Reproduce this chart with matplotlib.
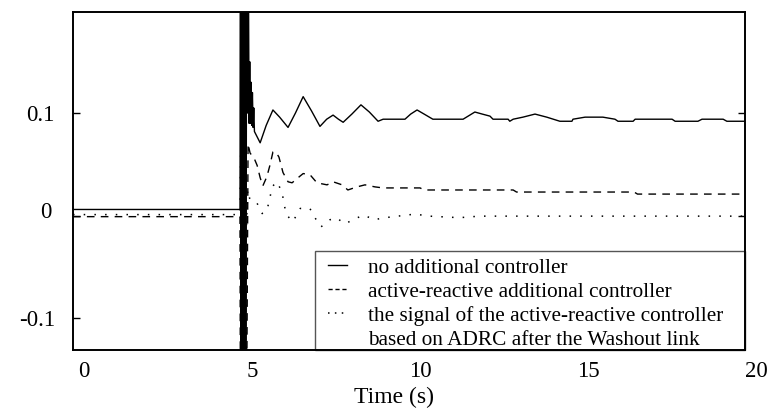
import matplotlib
matplotlib.use("Agg")
import matplotlib.pyplot as plt
from matplotlib.lines import Line2D
from matplotlib.patches import Rectangle
from matplotlib.transforms import ScaledTranslation

plt.rcParams['font.family'] = ['Liberation Serif', 'DejaVu Serif']
plt.rcParams['axes.unicode_minus'] = False

# ---- data ----
t_solid = [0, 4.97, 4.985, 5.00, 5.02, 5.04, 5.07, 5.09, 5.12, 5.14, 5.17, 5.20, 5.22, 5.24, 5.26,
           5.28, 5.30, 5.32, 5.34, 5.36, 5.38, 5.40, 5.57, 5.75, 5.95, 6.15, 6.40, 6.62, 6.85, 7.10,
           7.35, 7.55, 7.74, 7.90, 8.04, 8.30, 8.57, 8.82, 9.08, 9.23, 9.88, 10.05, 10.24, 10.45,
           10.71, 11.61, 11.96, 12.18, 12.41, 12.5, 12.95, 13.0, 13.1, 13.39, 13.75, 14.1, 14.49,
           14.85, 14.88, 15.24, 15.77, 16.13, 16.22, 16.67, 16.73, 17.83, 17.92, 18.60, 18.72,
           19.35, 19.46, 20.0]
v_solid = [0.006, 0.006, 0.3, -0.3, 0.3, -0.3, 0.3, -0.3, 0.3, -0.3, 0.3, 0.10, 0.25, 0.09, 0.15,
           0.09, 0.13, 0.088, 0.12, 0.086, 0.105, 0.082, 0.071, 0.088, 0.103, 0.096, 0.086, 0.100,
           0.116, 0.102, 0.087, 0.094, 0.098, 0.094, 0.091, 0.099, 0.108, 0.101, 0.092, 0.094,
           0.094, 0.099, 0.103, 0.099, 0.094, 0.094, 0.101, 0.099, 0.097, 0.094, 0.094, 0.092,
           0.094, 0.096, 0.099, 0.096, 0.092, 0.092, 0.094, 0.096, 0.096, 0.094, 0.092, 0.092,
           0.094, 0.094, 0.092, 0.092, 0.094, 0.094, 0.092, 0.092]

t_dash = [0, 4.97, 4.99, 5.01, 5.03, 5.06, 5.09, 5.12, 5.15, 5.21, 5.27, 5.39, 5.48, 5.57, 5.65,
          5.77, 5.86, 5.95, 6.04, 6.13, 6.25, 6.40, 6.52, 6.70, 6.85, 7.05, 7.26, 7.56, 7.74, 8.01,
          8.18, 8.45, 8.69, 8.99, 9.23, 10.33, 10.45, 13.1, 13.2, 16.7, 16.8, 20.0]
v_dash = [-0.001, -0.001, -0.3, 0.3, -0.3, 0.3, -0.3, 0.3, -0.3, 0.07, 0.061, 0.056, 0.049, 0.037,
          0.029, 0.038, 0.049, 0.062, 0.062, 0.057, 0.042, 0.033, 0.032, 0.037, 0.041, 0.040,
          0.032, 0.030, 0.033, 0.030, 0.025, 0.028, 0.030, 0.028, 0.027, 0.027, 0.025, 0.025,
          0.023, 0.023, 0.021, 0.021]

t_dot = [0, 4.97, 4.99, 5.03, 5.08, 5.13, 5.20, 5.27, 5.48, 5.63, 5.77, 5.86, 5.92, 6.07, 6.22,
         6.28, 6.34, 6.52, 6.61, 6.76, 7.05, 7.20, 7.38, 7.65, 7.83, 8.10, 8.39, 8.66, 8.96, 9.29,
         10.18, 10.6, 11.5, 12.1, 20.0]
v_dot = [0.001, 0.001, 0.06, -0.05, 0.05, -0.04, 0.025, 0.015, 0.012, 0.002, 0.005, 0.017, 0.028,
         0.033, 0.023, 0.012, 0.002, -0.006, -0.002, 0.007, 0.007, -0.002, -0.011, -0.004, -0.002,
         -0.008, -0.003, 0.0005, -0.004, -0.002, 0.0015, -0.0005, -0.002, -0.0005, -0.0005]

labels = ["no additional controller",
          "active-reactive additional controller",
          "the signal of the active-reactive controller",
          "based on ADRC after the Washout link"]
x_ticks = [0, 5, 10, 15, 20]
y_ticks = [-0.1, 0, 0.1]
y_tick_labels = ["-0.1", "0", "0.1"]

# ---- figure ----
fig = plt.figure(figsize=(7.68, 4.17), dpi=100)
ax = fig.add_axes([73/768, 1-350/417, (745-73)/768, (350-11.5)/417])

ax.plot(t_solid, v_solid, color='black', lw=1.0, ls='-')
ax.plot(t_dash, v_dash, color='black', lw=1.0, ls=(0, (5.5, 4.5)))
ax.plot(t_dot, v_dot, color='black', lw=1.1, ls=(0, (1, 6)))

ax.set_xlim(0, 20)
ax.set_ylim(-0.131, 0.199)
ax.set_xticks(x_ticks)
ax.set_xticklabels([str(v) for v in x_ticks])
ax.set_yticks(y_ticks)
ax.set_yticklabels(y_tick_labels)

ax.tick_params(axis='x', length=0, pad=8, labelsize=16.5)
ax.tick_params(axis='y', direction='in', length=5, width=1.0, pad=13, labelsize=16.5,
               left=True, right=True)
for lab in ax.get_xticklabels():
    lab.set_transform(lab.get_transform() + ScaledTranslation(11/100, 0, fig.dpi_scale_trans))
ylabs = ax.get_yticklabels()
ylabs[1].set_transform(ylabs[1].get_transform() + ScaledTranslation(-3/100, 6/100, fig.dpi_scale_trans))

for s in ax.spines.values():
    s.set_linewidth(1.4)
    s.set_color('black')
    s.set_zorder(6)

ax.set_xlabel("Time (s)", fontsize=17)
ax.xaxis.set_label_coords((394-73)/672, -0.108)

# legend box
box = Rectangle(((315-73)/672, 0), (745-315)/672, (350-251)/338, transform=ax.transAxes,
                facecolor='white', edgecolor='#555555', lw=1.0, zorder=4, clip_on=False)
ax.add_patch(box)

handles = [Line2D([], [], color='black', lw=1.0, ls='-'),
           Line2D([], [], color='black', lw=1.0, ls=(0, (3, 2))),
           Line2D([], [], color='black', lw=1.1, ls=(0, (1, 3.5))),
           Line2D([], [], color='none', lw=0)]
leg = ax.legend(handles, labels, loc='lower left',
                bbox_to_anchor=((328-73)/672, 0.0),
                borderaxespad=0, fontsize=15.3, frameon=False,
                handlelength=0.9, handletextpad=1.0, labelspacing=0.2, borderpad=0.0)
leg.set_zorder(5)

fig.savefig("out.png", dpi=100)
